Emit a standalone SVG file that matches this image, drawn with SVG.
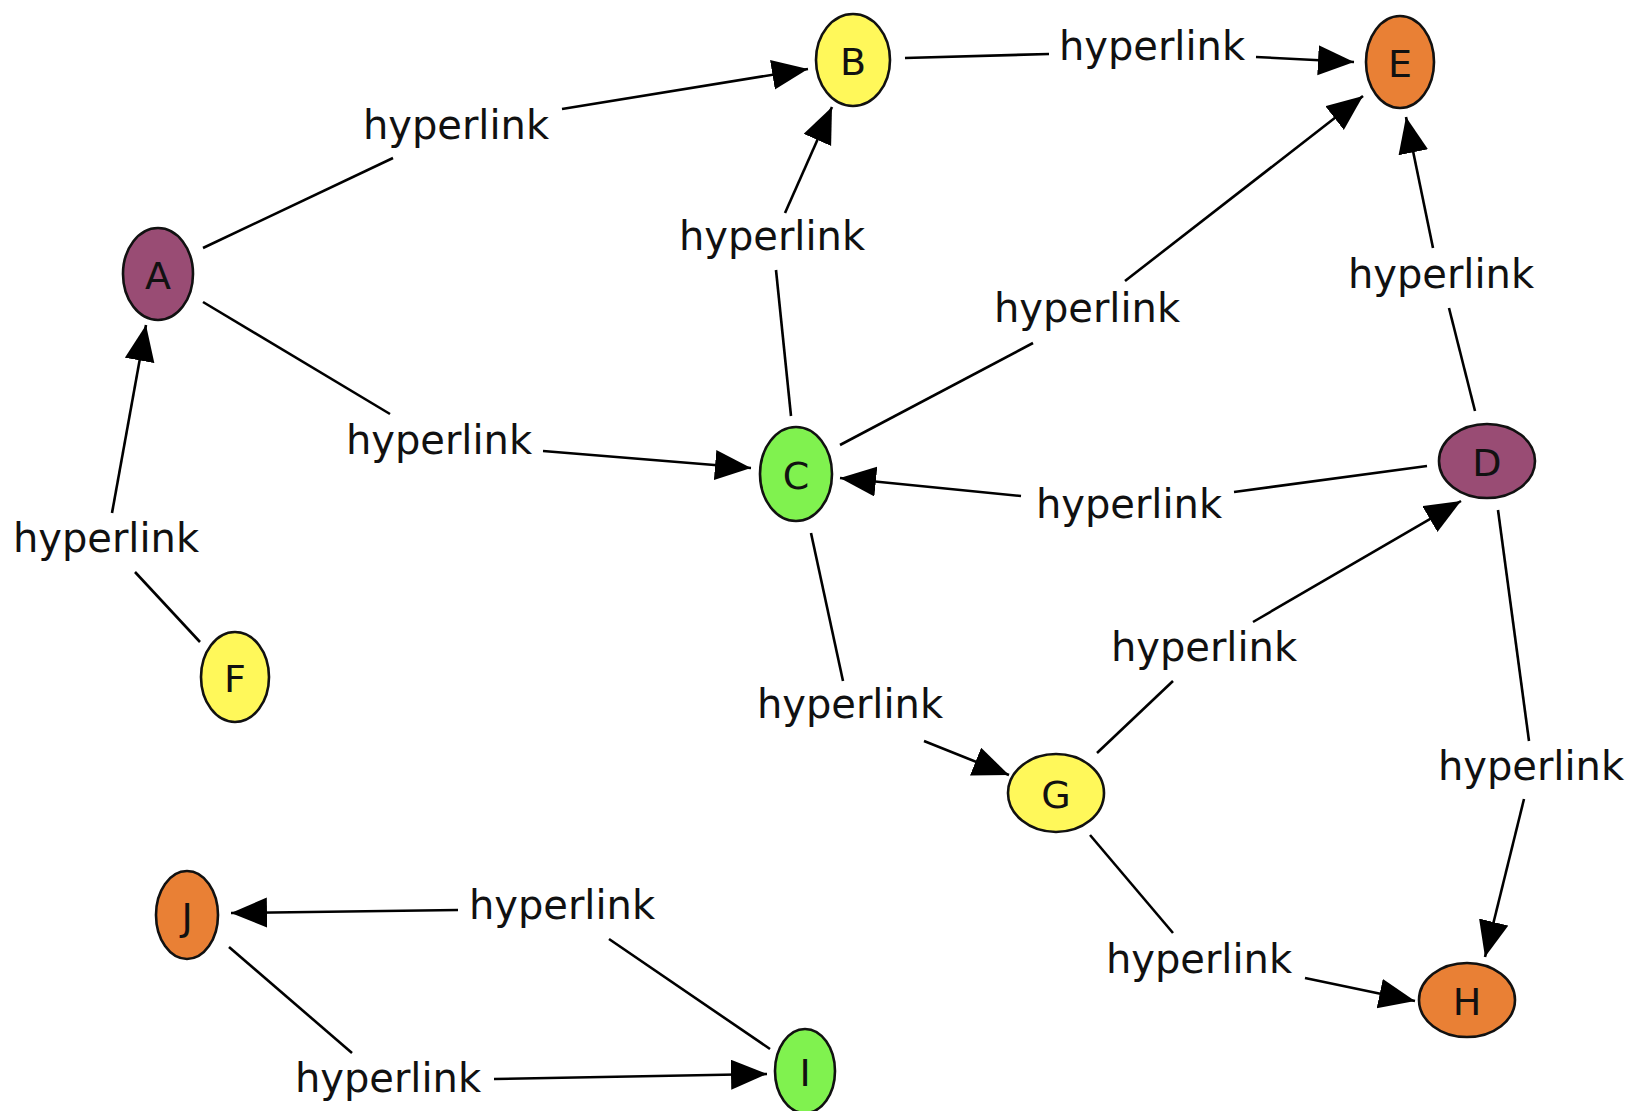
<svg xmlns="http://www.w3.org/2000/svg" width="1631" height="1111" viewBox="0 0 1631 1111">
<defs>
<marker id="arr" markerUnits="userSpaceOnUse" markerWidth="38" markerHeight="32" refX="36" refY="15" orient="auto">
<path d="M0,0 L36,15 L0,30 z" fill="#000"/>
</marker>
<style>
.e{stroke:#000;stroke-width:2.6;fill:none}
.a{marker-end:url(#arr)}
.lbl{font-family:"DejaVu Sans",Verdana,sans-serif;font-size:40px;fill:#111;text-anchor:middle}
.n{stroke:#111;stroke-width:2.6}
.nt{font-family:"DejaVu Sans",Verdana,sans-serif;font-size:38px;fill:#111;text-anchor:middle}
.pu{fill:#994C74}.ye{fill:#FFF85A}.gr{fill:#80F24F}.or{fill:#E98035}
</style>
</defs>
<rect width="1631" height="1111" fill="#fff"/>
<g id="connectors">
<line class="e" x1="203" y1="248" x2="393" y2="158"/><line class="e a" x1="562" y1="109" x2="808" y2="69"/>
<line class="e" x1="203" y1="302" x2="390" y2="414"/><line class="e a" x1="543" y1="451" x2="751" y2="468"/>
<line class="e" x1="200" y1="642" x2="135" y2="572"/><line class="e a" x1="112" y1="513" x2="146" y2="325"/>
<line class="e" x1="791" y1="416" x2="776" y2="270"/><line class="e a" x1="785" y1="213" x2="832" y2="107"/>
<line class="e" x1="905" y1="58" x2="1049" y2="54"/><line class="e a" x1="1256" y1="57" x2="1354" y2="62"/>
<line class="e" x1="840" y1="445" x2="1033" y2="343"/><line class="e a" x1="1125" y1="281" x2="1363" y2="96"/>
<line class="e" x1="1475" y1="411" x2="1449" y2="308"/><line class="e a" x1="1433" y1="248" x2="1406" y2="117"/>
<line class="e" x1="1427" y1="466" x2="1234" y2="492"/><line class="e a" x1="1021" y1="496" x2="840" y2="478"/>
<line class="e" x1="811" y1="533" x2="843" y2="681"/><line class="e a" x1="924" y1="741" x2="1009" y2="775"/>
<line class="e" x1="1097" y1="753" x2="1173" y2="681"/><line class="e a" x1="1253" y1="622" x2="1461" y2="501"/>
<line class="e" x1="1498" y1="510" x2="1529" y2="741"/><line class="e a" x1="1524" y1="799" x2="1485" y2="957"/>
<line class="e" x1="1090" y1="835" x2="1173" y2="933"/><line class="e a" x1="1305" y1="978" x2="1415" y2="1001"/>
<line class="e" x1="770" y1="1049" x2="609" y2="939"/><line class="e a" x1="458" y1="910" x2="231" y2="913"/>
<line class="e" x1="229" y1="947" x2="352" y2="1053"/><line class="e a" x1="494" y1="1079" x2="767" y2="1074"/>
<text class="lbl" x="456" y="139">hyperlink</text>
<text class="lbl" x="439" y="454">hyperlink</text>
<text class="lbl" x="106" y="552">hyperlink</text>
<text class="lbl" x="772" y="250">hyperlink</text>
<text class="lbl" x="1152" y="60">hyperlink</text>
<text class="lbl" x="1087" y="322">hyperlink</text>
<text class="lbl" x="1441" y="288">hyperlink</text>
<text class="lbl" x="1129" y="518">hyperlink</text>
<text class="lbl" x="850" y="718">hyperlink</text>
<text class="lbl" x="1204" y="661">hyperlink</text>
<text class="lbl" x="1531" y="780">hyperlink</text>
<text class="lbl" x="1199" y="973">hyperlink</text>
<text class="lbl" x="562" y="919">hyperlink</text>
<text class="lbl" x="388" y="1092">hyperlink</text>
</g>
<g id="node-A"><ellipse class="n pu" cx="158" cy="274" rx="35" ry="46"/><text class="nt" x="158" y="289">A</text></g>
<g id="node-B"><ellipse class="n ye" cx="853" cy="60" rx="37" ry="46"/><text class="nt" x="853" y="75">B</text></g>
<g id="node-E"><ellipse class="n or" cx="1400" cy="62" rx="34" ry="46"/><text class="nt" x="1400" y="77">E</text></g>
<g id="node-C"><ellipse class="n gr" cx="796" cy="474" rx="36" ry="47"/><text class="nt" x="796" y="489">C</text></g>
<g id="node-D"><ellipse class="n pu" cx="1487" cy="461" rx="48" ry="37"/><text class="nt" x="1487" y="476">D</text></g>
<g id="node-F"><ellipse class="n ye" cx="235" cy="677" rx="34" ry="45"/><text class="nt" x="235" y="692">F</text></g>
<g id="node-G"><ellipse class="n ye" cx="1056" cy="793" rx="48" ry="39"/><text class="nt" x="1056" y="808">G</text></g>
<g id="node-H"><ellipse class="n or" cx="1467" cy="1000" rx="48" ry="37"/><text class="nt" x="1467" y="1015">H</text></g>
<g id="node-J"><ellipse class="n or" cx="187" cy="915" rx="31" ry="44"/><text class="nt" x="187" y="930">J</text></g>
<g id="node-I"><ellipse class="n gr" cx="805" cy="1071" rx="30" ry="42"/><text class="nt" x="805" y="1086">I</text></g>
</svg>
